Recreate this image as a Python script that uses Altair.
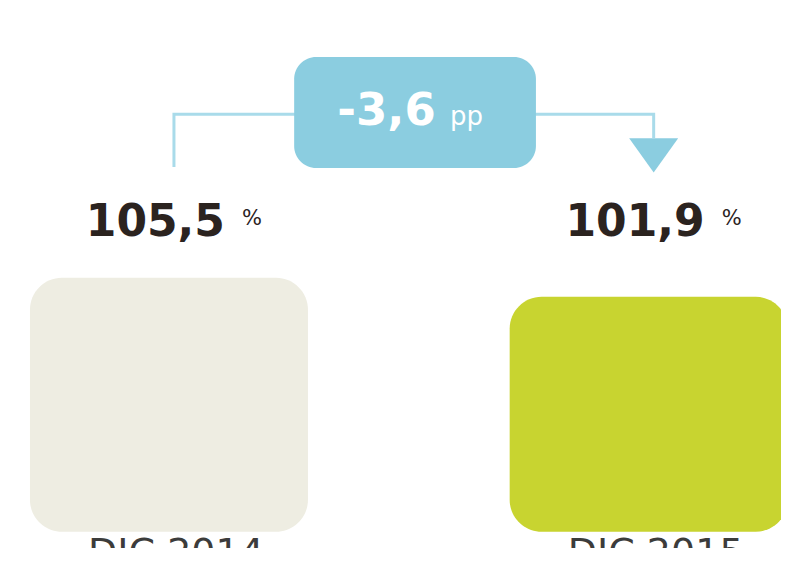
import altair as alt
import pandas as pd

# ---- data ----
categories = ["DIC 2014", "DIC 2015"]
values = [105.5, 101.9]
value_labels = ["105,5", "101,9"]
unit_label = "%"
change_label = "-3,6"
change_unit = "pp"
bar_colors = ["#EEEDE2", "#C8D430"]

# ---- layout (scale) constants ----
W, H = 773, 540
PX = 486.0           # pixels per category step
X0 = 158.0           # pixel position of the first category
BASE = 57.4          # value at which bars start
LABEL_Y = 113.4      # baseline level of value labels
CONN_Y = 136.5       # level of connector line
BADGE_Y = (126.3, 147.3)
BADGE_X = (0.261, 0.765)

FONT = "DejaVu Sans"
BADGE_COLOR = "#8BCDE0"
LINE_COLOR = "#A9DBEA"
TEXT_COLOR = "#2B231F"

df = pd.DataFrame({
    "idx": list(range(len(categories))),
    "cat": categories,
    "value": values,
    "label": value_labels,
    "unit": [unit_label] * len(categories),
    "color": bar_colors,
    "base": [BASE] * len(categories),
})

xs = alt.Scale(domain=[-X0 / PX, (W - X0) / PX], nice=False, zero=False)
ys = alt.Scale(domain=[156.6 - H / 5.28, 156.6], nice=False, zero=False)
X = alt.X("idx:Q", scale=xs, axis=None)

bars = alt.Chart(df).mark_bar(size=278, cornerRadius=32, clip=True).encode(
    x=X,
    y=alt.Y("value:Q", scale=ys, axis=None),
    y2="base:Q",
    color=alt.Color("color:N", scale=None),
)

num = alt.Chart(df).mark_text(
    align="right", baseline="alphabetic", dx=56, font=FONT, fontSize=44,
    fontWeight="bold", color=TEXT_COLOR
).encode(x=X, y=alt.datum(LABEL_Y), text="label:N")

pct = alt.Chart(df).mark_text(
    align="left", baseline="alphabetic", dx=73, dy=-11, font=FONT, fontSize=21,
    color=TEXT_COLOR
).encode(x=X, y=alt.datum(LABEL_Y), text="unit:N")

cat = alt.Chart(df).mark_text(
    align="center", baseline="alphabetic", dx=7, dy=33, font=FONT, fontSize=38,
    color="#3C3C3B"
).encode(x=X, y="base:Q", text="cat:N")

conn_df = pd.DataFrame({
    "idx": [0, 0, 1, 1],
    "y": [126.5, CONN_Y, CONN_Y, 132.0],
    "o": [0, 1, 2, 3],
})
conn = alt.Chart(conn_df).mark_line(
    color=LINE_COLOR, strokeWidth=3, strokeJoin="miter", xOffset=5
).encode(x=X, y=alt.Y("y:Q", scale=ys), order="o:O")

tri_df = pd.DataFrame({"idx": [1], "y": [128.7]})
tri = alt.Chart(tri_df).mark_point(
    shape="M -1 -0.7 L 1 -0.7 L 0 0.7 Z", filled=True, size=2401,
    color=BADGE_COLOR, opacity=1, xOffset=5
).encode(x=X, y=alt.Y("y:Q", scale=ys))

badge_df = pd.DataFrame({
    "x": [BADGE_X[0]], "x2": [BADGE_X[1]], "y": [BADGE_Y[1]], "y2": [BADGE_Y[0]],
    "xc": [(BADGE_X[0] + BADGE_X[1]) / 2], "yc": [(BADGE_Y[0] + BADGE_Y[1]) / 2],
    "t": [change_label], "u": [change_unit],
})
badge = alt.Chart(badge_df).mark_rect(cornerRadius=22, color=BADGE_COLOR).encode(
    x=alt.X("x:Q", scale=xs), x2="x2:Q", y=alt.Y("y:Q", scale=ys), y2="y2:Q"
)
badge_t = alt.Chart(badge_df).mark_text(
    align="center", baseline="alphabetic", dx=-28.5, dy=12.5, font=FONT,
    fontSize=45, fontWeight="bold", color="white"
).encode(x=alt.X("xc:Q", scale=xs), y=alt.Y("yc:Q", scale=ys), text="t:N")
badge_u = alt.Chart(badge_df).mark_text(
    align="left", baseline="alphabetic", dx=35, dy=12.5, font=FONT,
    fontSize=26, color="white"
).encode(x=alt.X("xc:Q", scale=xs), y=alt.Y("yc:Q", scale=ys), text="u:N")

chart = alt.layer(bars, num, pct, cat, conn, tri, badge, badge_t, badge_u).properties(
    width=W, height=H, padding=0,
    autosize=alt.AutoSizeParams(type="none"),
    background="white",
).configure_view(stroke=None)

chart.save("out.html", embed_options={"renderer": "svg", "actions": False})
